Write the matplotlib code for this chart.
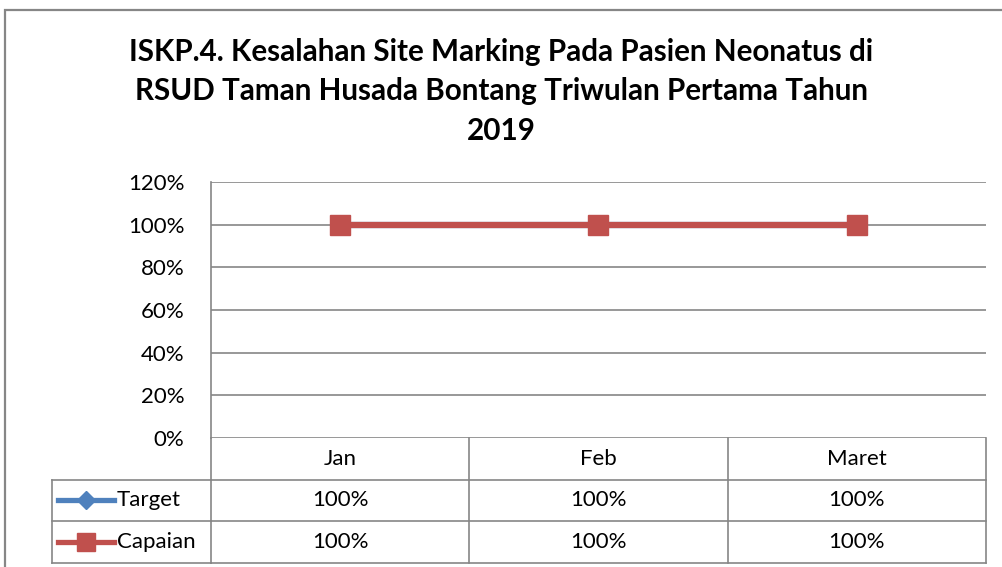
import numpy as np
import matplotlib.pyplot as plt
from matplotlib.patches import Rectangle
from matplotlib.lines import Line2D
import matplotlib.transforms as mtransforms

# data
bulan = ['Jan', 'Feb', 'Maret']
target = [100, 100, 100]
capaian = [100, 100, 100]
yticks = [0, 20, 40, 60, 80, 100, 120]
judul = ('ISKP.4. Kesalahan Site Marking Pada Pasien Neonatus di\n'
         'RSUD Taman Husada Bontang Triwulan Pertama Tahun\n2019')

plt.rcParams['font.family'] = ['Lato', 'DejaVu Sans']
grid_col = '#868686'
blue = '#4F81BD'
red = '#C0504D'
fs = 16

fig = plt.figure(figsize=(10.03, 5.67), dpi=100)
W, H = 1003, 567

# chart frame (runs past the right and bottom edges)
fig.patches.append(Rectangle((5 / W, -0.1), 1.2, 1.1 - 10 / H,
                             transform=fig.transFigure, fill=False,
                             edgecolor=grid_col, lw=1.6, clip_on=False))

ax = fig.add_axes([211 / W, 1 - 438 / H, 775 / W, 256 / H])
x = np.arange(len(bulan))
ax.plot(x, target, '-D', color=blue, lw=4.5, ms=9, zorder=3)
ax.plot(x, capaian, '-s', color=red, lw=4.5, ms=14, zorder=4)
ax.set_xlim(-0.5, len(bulan) - 0.5)
ax.set_ylim(0, 120)
ax.set_yticks(yticks)
ax.set_yticklabels([f'{v}%' for v in yticks], fontsize=fs)
ax.tick_params(axis='y', length=0, pad=19)
ax.set_xticks([])
for v in yticks:
    ax.axhline(v, color=grid_col, lw=1.2, zorder=1)
for s in ['top', 'right', 'bottom']:
    ax.spines[s].set_visible(False)
ax.spines['left'].set_color(grid_col)
ax.spines['left'].set_linewidth(1.2)

fig.text(0.5, 1 - 91 / H, judul, ha='center', va='center', fontsize=21.3,
         fontweight='bold', linespacing=1.5)

# data table below the axes
rh = 41.5 / 256
tr = mtransforms.blended_transform_factory(ax.transData, ax.transAxes)
rows = [('Target', target, blue, 'D'), ('Capaian', capaian, red, 's')]
lc = dict(color=grid_col, lw=1.2, clip_on=False, zorder=1)
# horizontal lines
for k in (1, 2, 3):
    ax.add_line(Line2D([-0.5, 2.5], [-k * rh, -k * rh], transform=tr, **lc))
# vertical lines
for xv in np.arange(len(bulan) + 1) - 0.5:
    ax.add_line(Line2D([xv, xv], [0, -3 * rh], transform=tr, **lc))
# legend cell
lx = -0.5 - 159 / 258
for k in (1, 2, 3):
    ax.add_line(Line2D([lx, -0.5], [-k * rh, -k * rh], transform=tr, **lc))
ax.add_line(Line2D([lx, lx], [-rh, -3 * rh], transform=tr, **lc))

for i, b in enumerate(bulan):
    ax.text(i, -0.5 * rh, b, transform=tr, ha='center', va='center', fontsize=fs)
for r, (nama, vals, col, mk) in enumerate(rows):
    yc = -(r + 1.5) * rh
    for i, v in enumerate(vals):
        ax.text(i, yc, f'{v}%', transform=tr, ha='center', va='center', fontsize=fs)
    x0 = lx + 6 / 258
    x1 = lx + 62 / 258
    ax.add_line(Line2D([x0, x1], [yc, yc], transform=tr, color=col, lw=3.8,
                       clip_on=False))
    ax.add_line(Line2D([(x0 + x1) / 2], [yc], transform=tr, color=col,
                       marker=mk, ms=13 if mk == 's' else 9, clip_on=False))
    ax.text(x1 + 3 / 258, yc, nama, transform=tr, ha='left', va='center', fontsize=fs)

fig.savefig('out.png', dpi=100)
